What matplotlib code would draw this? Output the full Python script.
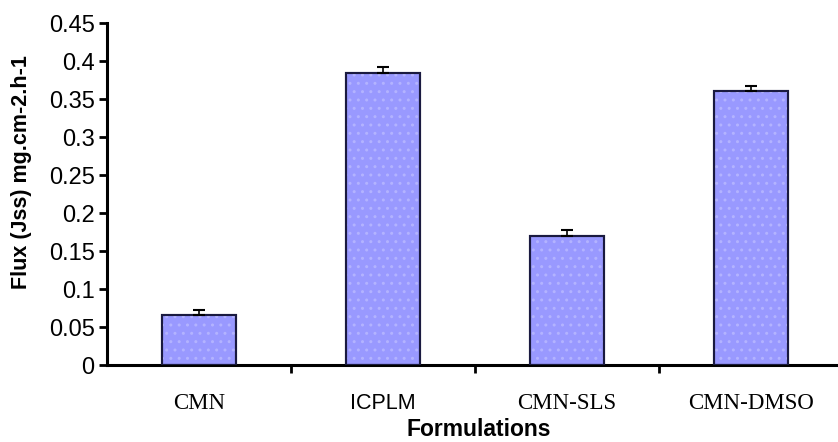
import matplotlib
matplotlib.use("Agg")
import matplotlib.pyplot as plt
import numpy as np

categories = ["CMN", "ICPLM", "CMN-SLS", "CMN-DMSO"]
flux = [0.066, 0.384, 0.170, 0.360]
errors = [0.007, 0.008, 0.008, 0.007]
yticks = [0, 0.05, 0.1, 0.15, 0.2, 0.25, 0.3, 0.35, 0.4, 0.45]
ytick_labels = ["0", "0.05", "0.1", "0.15", "0.2", "0.25", "0.3", "0.35", "0.4", "0.45"]

W, H = 838, 442
fig = plt.figure(figsize=(W / 100, H / 100), dpi=100)
ax = fig.add_axes([107 / W, (H - 365) / H, (W - 107) / W, 342 / H])

x = np.arange(len(categories))
ax.bar(x, flux, width=0.4, color="#9999ff", edgecolor="#1a1a40", linewidth=1.5, zorder=2)
ax.bar(x, flux, width=0.4, color="none", edgecolor="#b3b3ff", hatch="..", linewidth=0, zorder=2.5)
ax.bar(x, flux, width=0.4, color="none", edgecolor="#1a1a40", linewidth=1.5, zorder=3)
ax.errorbar(x, flux, yerr=[[0] * len(errors), errors], fmt="none", ecolor="black",
            elinewidth=1.2, capsize=4, capthick=1.5, zorder=4)

ax.set_xlim(-0.5, 3.5 - 5 / 184)
ax.set_ylim(0, 0.45)
ax.set_yticks(yticks)
ax.set_yticklabels(ytick_labels, fontsize=17, family="Liberation Sans")
ax.set_xticks(x)
ax.set_xticklabels(categories, fontsize=16.5, family="Liberation Serif")
for lbl in ax.get_xticklabels():
    if lbl.get_text() == "ICPLM":
        lbl.set_family("Liberation Sans")
        lbl.set_fontsize(15.5)
ax.set_xticks(np.arange(0.5, 3.0, 1.0), minor=True)
ax.tick_params(axis="x", which="major", length=0, pad=20)
ax.tick_params(axis="x", which="minor", length=6, width=2, direction="out")
ax.tick_params(axis="y", length=6, width=2, direction="out", pad=3)

for s in ["top", "right"]:
    ax.spines[s].set_visible(False)
for s in ["left", "bottom"]:
    ax.spines[s].set_linewidth(2.2)

ax.set_ylabel("Flux (Jss) mg.cm-2.h-1", fontsize=15.5, fontweight="bold", family="Liberation Sans")
ax.yaxis.set_label_coords((32 - 107) / 731, 0.564)
ax.set_xlabel("Formulations", fontsize=16.5, fontweight="bold", family="Liberation Sans")
ax.xaxis.set_label_coords((479 - 107) / 731, (365 - 418) / 342)

fig.savefig("out.png", dpi=100)
